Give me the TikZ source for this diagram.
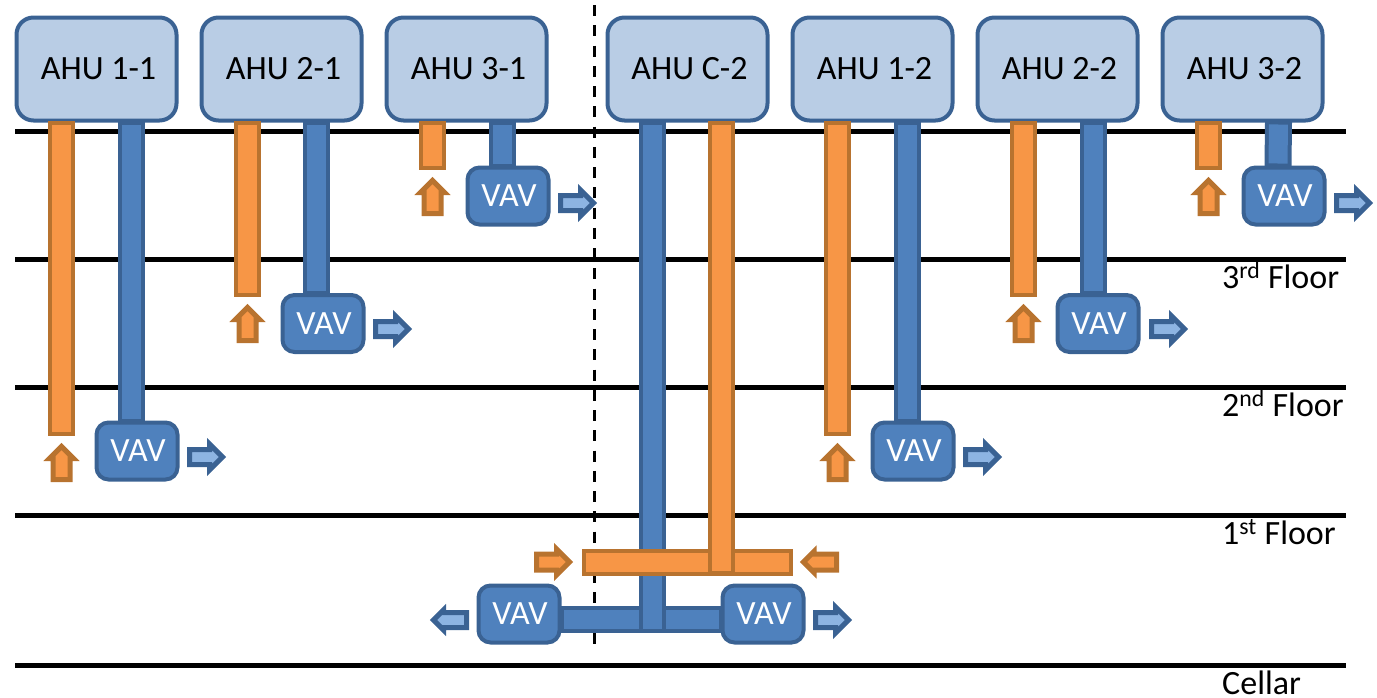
\documentclass[tikz,border=0pt]{standalone}
\usepackage{fontspec}
\setmainfont{Carlito}
\usetikzlibrary{shapes.arrows}
\definecolor{ahufill}{HTML}{B9CDE5}
\definecolor{blueline}{HTML}{3A6293}
\definecolor{bluefill}{HTML}{4F81BD}
\definecolor{lightblue}{HTML}{8DB4E2}
\definecolor{orangeline}{HTML}{B8732F}
\definecolor{orangefill}{HTML}{F79646}

\begin{document}
\begin{tikzpicture}[x=1pt, y=-1pt,
        every node/.style={font=\fontsize{34}{37}\selectfont},
        floorline/.style={line width=5pt, black},
        divider/.style={line width=3pt, dash pattern=on 11pt off 9.25pt},
        ahu/.style={draw=blueline, fill=ahufill, line width=4pt, rounded corners=17pt,
            minimum width=160pt, minimum height=103pt, inner sep=0pt,
            execute at begin node=\hspace{4pt}},
        vav/.style={draw=blueline, fill=bluefill, text=white, line width=4pt, rounded corners=12pt,
            minimum width=81pt, minimum height=57pt, inner sep=0pt,
            execute at begin node=\hspace{2pt}},
        flow/.style={single arrow, anchor=tail, line width=5pt, minimum width=0pt, minimum height=33pt},
        supply/.style={flow, draw=blueline, fill=lightblue, inner sep=5pt, single arrow head extend=5.5pt},
        intake/.style={flow, draw=orangeline, fill=orangefill, inner sep=6pt, single arrow head extend=3.5pt},
        blueduct/.style={draw=blueline, double=bluefill, line width=4pt, double distance=19pt,
            line cap=rect, shorten >=11.5pt, shorten <=11.5pt},
        orangeduct/.style={draw=orangeline, double=orangefill, line width=4pt, double distance=19pt,
            line cap=rect, shorten >=13.5pt, shorten <=11.5pt},
        floorlabel/.style={anchor=base west, inner sep=0pt}
    ]
        \useasboundingbox (0,0) rectangle (1377,697);

        \coordinate (roofL)    at (15, 131);
        \coordinate (roofR)    at (1346, 131);
        \coordinate (thirdL)   at (15, 259);
        \coordinate (thirdR)   at (1346, 259);
        \coordinate (secondL)  at (15, 387);
        \coordinate (secondR)  at (1346, 387);
        \coordinate (firstL)   at (15, 515);
        \coordinate (firstR)   at (1346, 515);
        \coordinate (cellarL)  at (15, 665);
        \coordinate (cellarR)  at (1346, 665);
        \coordinate (splitT)   at (594, 5);
        \coordinate (splitB)   at (594, 644);

        \draw[floorline] (roofL)   -- (roofR);
        \draw[floorline] (thirdL)  -- (thirdR);
        \draw[floorline] (secondL) -- (secondR);
        \draw[floorline] (firstL)  -- (firstR);
        \draw[floorline] (cellarL) -- (cellarR);
        \draw[divider]   (splitT)  -- (splitB);

        \node[floorlabel] (lab3) at (1222, 288) {3\textsuperscript{rd} Floor};
        \node[floorlabel] (lab2) at (1222, 416) {2\textsuperscript{nd} Floor};
        \node[floorlabel] (lab1) at (1222, 544) {1\textsuperscript{st} Floor};
        \node[floorlabel] (labc) at (1222, 694) {Cellar};

        \node[ahu] (ahu11) at (96.5, 69)   {AHU 1-1};
        \node[ahu] (ahu21) at (281.5, 69)  {AHU 2-1};
        \node[ahu] (ahu31) at (466.5, 69)  {AHU 3-1};
        \node[ahu] (ahuc2) at (687.5, 69)  {AHU C-2};
        \node[ahu] (ahu12) at (872.5, 69)  {AHU 1-2};
        \node[ahu] (ahu22) at (1057.5, 69) {AHU 2-2};
        \node[ahu] (ahu32) at (1242.5, 69) {AHU 3-2};

        \node[vav] (vav11) at (137, 451)    {VAV};
        \node[vav] (vav21) at (323, 323.5)  {VAV};
        \node[vav] (vav31) at (508, 196)    {VAV};
        \node[vav] (vav12) at (913, 451)    {VAV};
        \node[vav] (vav22) at (1098, 323.5) {VAV};
        \node[vav] (vav32) at (1284, 196)   {VAV};
        \node[vav] (vavL)  at (519, 614)    {VAV};
        \node[vav] (vavR)  at (763, 614)    {VAV};

        \coordinate (end11) at (61.5, 436);
        \coordinate (end21) at (247.5, 297);
        \coordinate (end31) at (432.5, 170);
        \coordinate (end12) at (837.5, 436);
        \coordinate (end22) at (1023.5, 297);
        \coordinate (end32) at (1208.5, 170);
        \coordinate (barL)  at (584, 562);
        \coordinate (barR)  at (793, 562);
        \coordinate (barT)  at (721.5, 575);
        \coordinate (hub)   at (652.5, 619.5);
        \coordinate (hubB)  at (652.5, 630.5);

        \draw[orangeduct] ([xshift=-35pt]ahu11.south) -- (end11);
        \draw[blueduct]   ([xshift=35pt]ahu11.south)  -- ([xshift=-5.5pt]vav11.north);
        \draw[orangeduct] ([xshift=-34pt]ahu21.south) -- (end21);
        \draw[blueduct]   ([xshift=35pt]ahu21.south)  -- ([xshift=-6.5pt]vav21.north);
        \draw[orangeduct] ([xshift=-34pt]ahu31.south) -- (end31);
        \draw[blueduct]   ([xshift=36pt]ahu31.south)  -- ([xshift=-5.5pt]vav31.north);
        \draw[orangeduct] ([xshift=-35pt]ahu12.south) -- (end12);
        \draw[blueduct]   ([xshift=35pt]ahu12.south)  -- ([xshift=-5.5pt]vav12.north);
        \draw[orangeduct] ([xshift=-34pt]ahu22.south) -- (end22);
        \draw[blueduct]   ([xshift=36pt]ahu22.south)  -- ([xshift=-4.5pt]vav22.north);
        \draw[orangeduct] ([xshift=-34pt]ahu32.south) -- (end32);
        \draw[blueduct]   ([xshift=36pt]ahu32.south)  -- ([xshift=-6pt]vav32.north);

        \draw[blueduct]   (vavL.east |- hub) -- (vavR.west |- hub);
        \draw[blueduct]   ([xshift=-35pt]ahuc2.south) -- (hubB);
        \draw[orangeduct] (barL) -- (barR);
        \draw[orangeduct] ([xshift=34pt]ahuc2.south) -- (barT);

        \node[intake, shape border rotate=90] (in11) at (61.5, 482)   {};
        \node[intake, shape border rotate=90] (in21) at (247.5, 343)  {};
        \node[intake, shape border rotate=90] (in31) at (432.5, 216)  {};
        \node[intake, shape border rotate=90] (in12) at (837.5, 482)  {};
        \node[intake, shape border rotate=90] (in22) at (1023.5, 343) {};
        \node[intake, shape border rotate=90] (in32) at (1208.5, 216) {};
        \node[intake, inner sep=5.5pt, single arrow head extend=5pt] (inL) at (534, 562) {};
        \node[intake, inner sep=5.5pt, single arrow head extend=2.5pt, shape border rotate=180] (inR) at (839, 562) {};

        \node[supply] (out11) at (187, 457)  {};
        \node[supply] (out21) at (373, 329)  {};
        \node[supply] (out31) at (558, 203)  {};
        \node[supply] (out12) at (963, 457)  {};
        \node[supply] (out22) at (1149, 329) {};
        \node[supply] (out32) at (1334, 203) {};
        \node[supply] (outR)  at (813, 620)  {};
        \node[supply, shape border rotate=180, single arrow head extend=2.5pt] (outL) at (469, 620) {};
    \end{tikzpicture}
\end{document}
